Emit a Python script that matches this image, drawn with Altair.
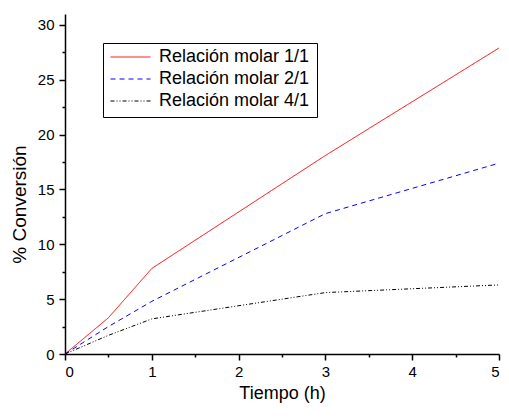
import altair as alt
import pandas as pd

# Data
tiempo = [0, 0.5, 1, 3, 5]
rel_11 = [0, 3.3, 7.8, 18.1, 27.9]
rel_21 = [0, 2.5, 4.8, 12.8, 17.4]
rel_41 = [0, 1.7, 3.2, 5.6, 6.3]

series = ["Relación molar 1/1", "Relación molar 2/1", "Relación molar 4/1"]
colors = ["#ff0000", "#0000ff", "#000000"]
dashes = [[1, 0], [5, 4], [4, 2, 1, 2, 1, 2]]

x_ticks = [0, 0.5, 1, 1.5, 2, 2.5, 3, 3.5, 4, 4.5, 5]
y_ticks = [0, 2.5, 5, 7.5, 10, 12.5, 15, 17.5, 20, 22.5, 25, 27.5, 30]

rows = []
for name, vals in zip(series, [rel_11, rel_21, rel_41]):
    for t, v in zip(tiempo, vals):
        rows.append({"Tiempo": t, "Conversion": v, "Serie": name})
df = pd.DataFrame(rows)

FONT = "Liberation Sans"

x_axis = alt.Axis(
    title="Tiempo (h)",
    values=x_ticks,
    labelExpr="datum.value % 1 === 0 ? format(datum.value, 'd') : ''",
    tickSize={"condition": {"test": "datum.value % 1 === 0", "value": 6}, "value": 3},
    grid=False,
    labelFontSize=15,
    titleFontSize=18,
    titleFontWeight="normal",
    labelPadding=4,
    titlePadding=5,
)
y_axis = alt.Axis(
    title="% Conversión",
    values=y_ticks,
    labelExpr="datum.value % 5 === 0 ? format(datum.value, 'd') : ''",
    tickSize={"condition": {"test": "datum.value % 5 === 0", "value": 6}, "value": 3},
    grid=False,
    labelFontSize=15,
    titleFontSize=19,
    titleFontWeight="normal",
    labelPadding=5,
    titlePadding=8,
    titleY=190,
)

chart = (
    alt.Chart(df)
    .mark_line(strokeWidth=1, clip=True)
    .encode(
        x=alt.X("Tiempo:Q", scale=alt.Scale(domain=[0, 5], nice=False, zero=False), axis=x_axis),
        y=alt.Y("Conversion:Q", scale=alt.Scale(domain=[0, 31], nice=False), axis=y_axis),
        color=alt.Color("Serie:N", scale=alt.Scale(domain=series, range=colors), title=None),
        strokeDash=alt.StrokeDash("Serie:N", scale=alt.Scale(domain=series, range=dashes), title=None),
    )
    .properties(
        width=434,
        height=340,
        autosize=alt.AutoSizeParams(type="none"),
        padding={"left": 57, "top": 6, "right": 2, "bottom": 53},
    )
    .configure_view(stroke=None)
    .configure_axis(
        domainColor="#000000",
        domainWidth=1.5,
        tickColor="#000000",
        tickWidth=1.5,
        labelColor="#000000",
        titleColor="#000000",
        labelFont=FONT,
        titleFont=FONT,
    )
    .configure_legend(
        orient="none",
        legendX=38,
        legendY=29,
        strokeColor="#000000",
        fillColor="#ffffff",
        padding=7,
        labelFont=FONT,
        labelFontSize=18,
        labelColor="#000000",
        symbolType="stroke",
        symbolSize=1600,
        symbolStrokeWidth=1,
        labelOffset=8,
        clipHeight=14,
        rowPadding=4,
    )
)

chart.save("out.html", embed_options={"renderer": "svg", "actions": False})
